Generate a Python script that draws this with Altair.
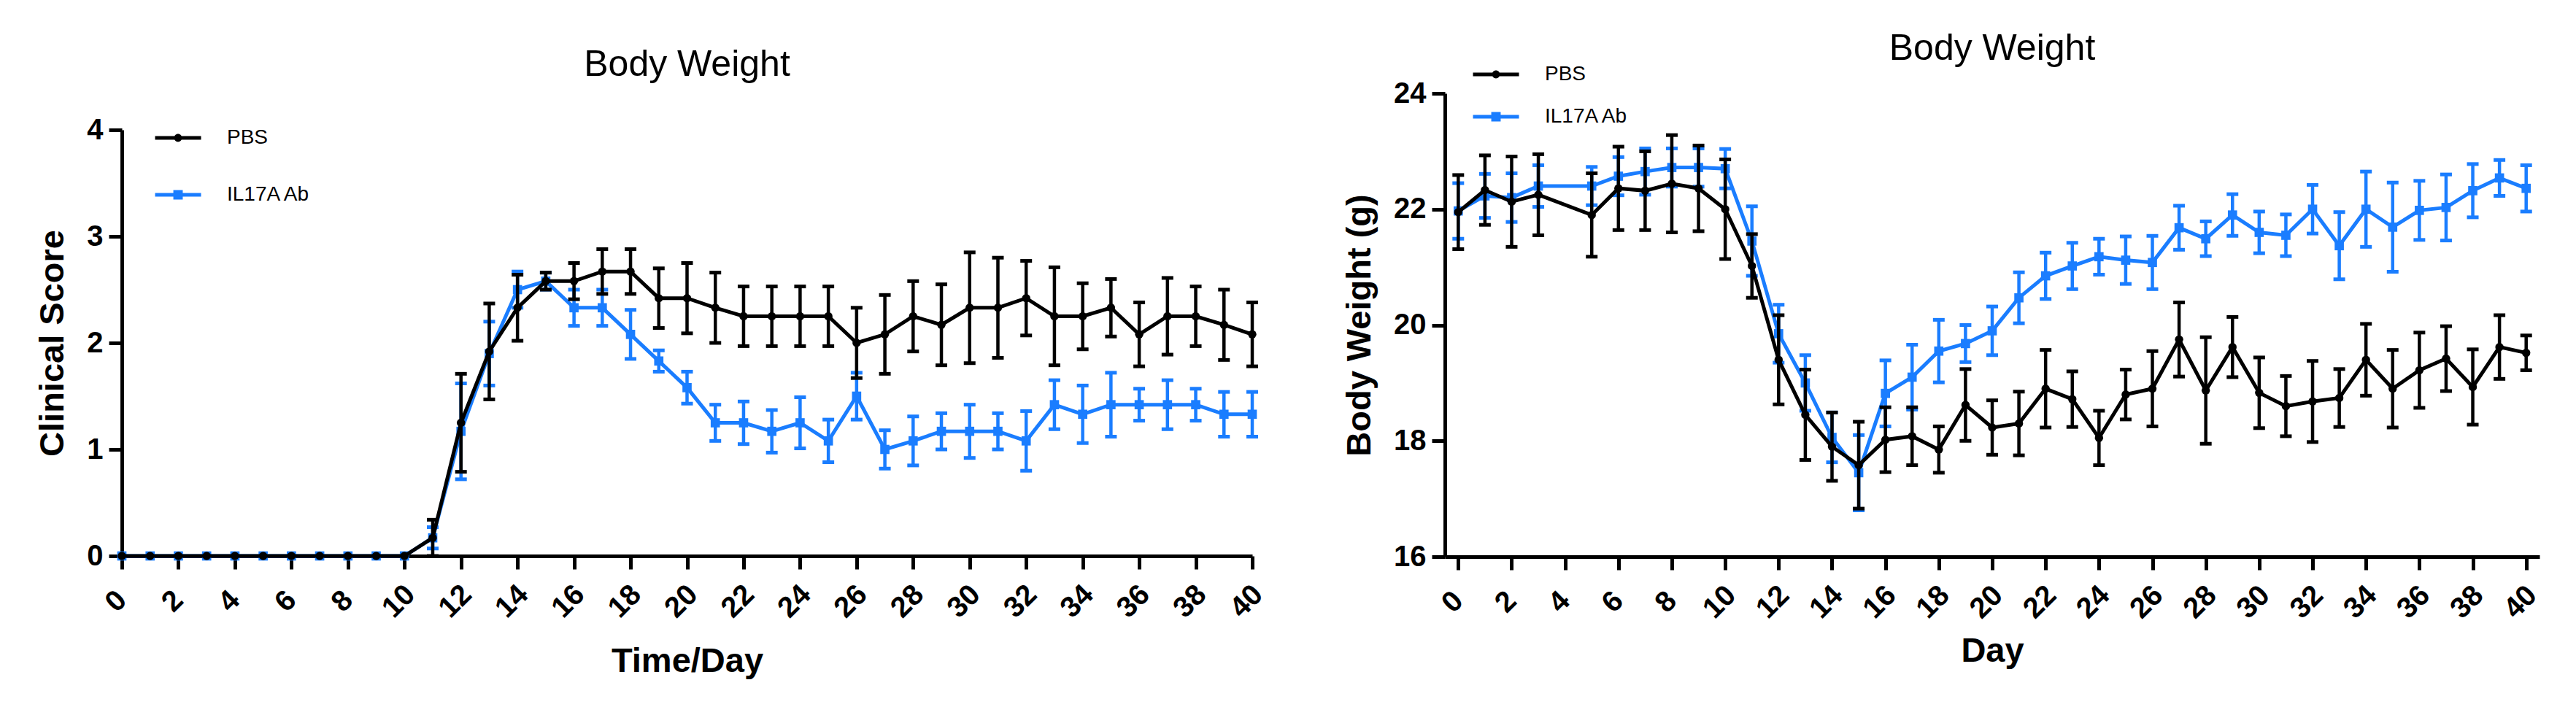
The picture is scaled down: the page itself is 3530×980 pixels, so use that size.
import altair as alt
import pandas as pd

# ---------------- data ----------------
cs_days = list(range(41))
cs_pbs = [0, 0, 0, 0, 0, 0, 0, 0, 0, 0, 0,
          0.17, 1.25, 1.92, 2.33, 2.58, 2.58, 2.67, 2.67, 2.42, 2.42,
          2.33, 2.25, 2.25, 2.25, 2.25, 2.00, 2.08, 2.25, 2.17, 2.33,
          2.33, 2.42, 2.25, 2.25, 2.33, 2.08, 2.25, 2.25, 2.17, 2.08]
cs_pbs_err = [0, 0, 0, 0, 0, 0, 0, 0, 0, 0, 0,
              0.17, 0.46, 0.45, 0.31, 0.08, 0.17, 0.21, 0.21, 0.28, 0.33,
              0.33, 0.28, 0.28, 0.28, 0.28, 0.33, 0.37, 0.33, 0.38, 0.52,
              0.47, 0.35, 0.46, 0.31, 0.27, 0.30, 0.36, 0.28, 0.33, 0.30]
cs_il = [0, 0, 0, 0, 0, 0, 0, 0, 0, 0, 0,
         0.17, 1.17, 1.90, 2.50, 2.58, 2.33, 2.33, 2.08, 1.83, 1.58,
         1.25, 1.25, 1.17, 1.25, 1.08, 1.50, 1.00, 1.08, 1.17, 1.17,
         1.17, 1.08, 1.42, 1.33, 1.42, 1.42, 1.42, 1.42, 1.33, 1.33]
cs_il_err = [0, 0, 0, 0, 0, 0, 0, 0, 0, 0, 0,
             0.10, 0.45, 0.30, 0.17, 0.08, 0.17, 0.17, 0.23, 0.10, 0.15,
             0.17, 0.20, 0.20, 0.24, 0.20, 0.22, 0.18, 0.23, 0.17, 0.25,
             0.17, 0.28, 0.23, 0.27, 0.30, 0.15, 0.23, 0.15, 0.21, 0.21]

bw_days = [0, 1, 2, 3] + list(range(5, 41))
bw_pbs = [21.95, 22.33, 22.13, 22.25, 21.90, 22.36, 22.32, 22.44, 22.36, 22.00,
          21.02, 19.40, 18.45, 17.90, 17.58, 18.02, 18.08, 17.85, 18.62, 18.23,
          18.30, 18.90, 18.72, 18.05, 18.80, 18.90, 19.75, 18.87, 19.62, 18.83,
          18.60, 18.68, 18.74, 19.40, 18.90, 19.22, 19.42, 18.93, 19.62, 19.52]
bw_pbs_err = [0.64, 0.60, 0.78, 0.70, 0.72, 0.72, 0.68, 0.84, 0.74, 0.86,
              0.55, 0.77, 0.78, 0.59, 0.75, 0.56, 0.50, 0.40, 0.62, 0.47,
              0.55, 0.67, 0.48, 0.47, 0.43, 0.65, 0.64, 0.92, 0.52, 0.61,
              0.52, 0.70, 0.50, 0.62, 0.67, 0.65, 0.56, 0.65, 0.55, 0.30]
bw_il = [21.97, 22.23, 22.20, 22.40, 22.40, 22.57, 22.65, 22.72, 22.72, 22.70,
         21.45, 19.85, 19.00, 18.06, 17.45, 18.82, 19.10, 19.55, 19.68, 19.90,
         20.47, 20.85, 21.02, 21.18, 21.12, 21.08, 21.68, 21.49, 21.90, 21.60,
         21.55, 22.00, 21.37, 22.00, 21.69, 21.98, 22.03, 22.32, 22.54, 22.36]
bw_il_err = [0.48, 0.38, 0.42, 0.36, 0.33, 0.33, 0.40, 0.33, 0.33, 0.34,
             0.60, 0.50, 0.48, 0.43, 0.65, 0.57, 0.56, 0.54, 0.32, 0.42,
             0.44, 0.40, 0.40, 0.31, 0.41, 0.46, 0.38, 0.30, 0.36, 0.36,
             0.36, 0.42, 0.58, 0.65, 0.77, 0.51, 0.57, 0.46, 0.31, 0.40]

groups = ["PBS", "IL17A Ab"]
x_ticks = list(range(0, 41, 2))

BLACK = "#000000"
BLUE = "#1A7DFF"
FONT = "Liberation Sans"

PATH_PBS = ("M-2.1,-0.167H2.1V0.167H-2.1Z "
            "M-0.36,0A0.36,0.36 0 1,1 0.36,0A0.36,0.36 0 1,1 -0.36,0Z")
PATH_IL = ("M-2.1,-0.167H2.1V0.167H-2.1Z "
           "M-0.43,-0.43H0.43V0.43H-0.43Z")


def title_params(text, offset):
    return alt.TitleParams(text, font=FONT, fontSize=50, fontWeight="normal",
                           anchor="middle", frame="group", offset=offset,
                           color="black")


def frame(days, mean, err, group):
    return pd.DataFrame({
        "day": days,
        "mean": mean,
        "lo": [m - e for m, e in zip(mean, err)],
        "hi": [m + e for m, e in zip(mean, err)],
        "err": err,
        "group": group,
    })


def panel(days, pbs, pbs_err, il, il_err, xdom, ydom, yvals, ytitle, xtitle,
          width, height, legend_x, legend_y, row_pad, x_title_pad):
    d_pbs = frame(days, pbs, pbs_err, "PBS")
    d_il = frame(days, il, il_err, "IL17A Ab")
    allDf = pd.concat([d_pbs, d_il], ignore_index=True)

    xenc = alt.X("day:Q", scale=alt.Scale(domain=xdom, nice=False, zero=False),
                 axis=alt.Axis(values=x_ticks, title=xtitle, labelAngle=315,
                               format="d",
                               labelAlign="center", labelBaseline="middle",
                               labelPadding=44, labelOffset=-8,
                               titlePadding=x_title_pad))
    yscale = alt.Scale(domain=ydom, nice=False, zero=False)
    yaxis = alt.Axis(values=yvals, title=ytitle, titlePadding=22,
                     labelPadding=8, format="d")

    layers = []
    for df, color, shape, size in ((d_il, BLUE, "square", 160),
                                   (d_pbs, BLACK, "circle", 130)):
        base = alt.Chart(df)
        bars = base.transform_filter("datum.err > 0")
        layers.append(base.mark_line(color=color, strokeWidth=5).encode(
            x=xenc, y=alt.Y("mean:Q", scale=yscale, axis=yaxis)))
        layers.append(bars.mark_rule(color=color, strokeWidth=4.5).encode(
            x="day:Q", y="lo:Q", y2="hi:Q"))
        layers.append(bars.mark_tick(color=color, orient="horizontal",
                                     size=16, thickness=5, opacity=1).encode(
            x="day:Q", y="lo:Q"))
        layers.append(bars.mark_tick(color=color, orient="horizontal",
                                     size=16, thickness=5, opacity=1).encode(
            x="day:Q", y="hi:Q"))
        layers.append(base.mark_point(color=color, shape=shape, size=size,
                                      filled=True, opacity=1).encode(
            x="day:Q", y="mean:Q"))

    leg = alt.Legend(title=None, orient="none", legendX=legend_x,
                     legendY=legend_y, symbolSize=900, symbolOpacity=1,
                     symbolStrokeWidth=0, labelFont=FONT, labelFontSize=28,
                     labelColor="black", labelOffset=52, rowPadding=row_pad,
                     padding=0)
    legend_layer = alt.Chart(allDf).mark_point(filled=True, opacity=0).encode(
        x="day:Q", y="mean:Q",
        color=alt.Color("group:N",
                        scale=alt.Scale(domain=groups, range=[BLACK, BLUE]),
                        legend=leg),
        shape=alt.Shape("group:N",
                        scale=alt.Scale(domain=groups, range=[PATH_PBS, PATH_IL]),
                        legend=leg),
    )
    layers.append(legend_layer)

    return alt.layer(*layers).properties(width=width, height=height)


left = panel(cs_days, cs_pbs, cs_pbs_err, cs_il, cs_il_err, [0, 40],
             [0, 4], [0, 1, 2, 3, 4], "Clinical Score", "Time/Day",
             1549, 584, 62, -4, 49, 30)
right = panel(bw_days, bw_pbs, bw_pbs_err, bw_il, bw_il_err, [-0.5, 40.5],
              [16, 24], [16, 18, 20, 22, 24], "Body Weight (g)", "Day",
              1500, 635, 55, -41, 29, 15).properties(
    title=title_params("Body Weight", -5))

# thin empty strip carrying the left panel's title (same width as that panel)
left_title_strip = alt.Chart(pd.DataFrame({"s": [0]})).mark_point(
    opacity=0, size=1).encode(
    x=alt.X("s:Q", axis=None), y=alt.Y("s:Q", axis=None)
).properties(width=1549, height=1, title=title_params("Body Weight", 14))

left_col = alt.vconcat(left_title_strip, left, spacing=29).resolve_scale(
    color="independent", shape="independent"
).resolve_legend(color="independent", shape="independent")
right_col = alt.vconcat(right, spacing=0).resolve_scale(
    color="independent", shape="independent"
).resolve_legend(color="independent", shape="independent")

chart = alt.hconcat(left_col, right_col, spacing=101).resolve_scale(
    color="independent", shape="independent"
).resolve_legend(color="independent", shape="independent").properties(
    padding={"left": 40, "top": 34, "right": 10, "bottom": 10},
    background="white",
).configure_view(stroke=None).configure_axis(
    grid=False, domainColor="black", domainWidth=5, tickColor="black",
    tickWidth=5, tickSize=18, labelFont=FONT, labelFontSize=40,
    labelFontWeight="bold", labelColor="black", titleFont=FONT,
    titleFontSize=47, titleFontWeight="bold", titleColor="black",
)

chart.save("out.html", embed_options={"renderer": "svg", "actions": False})
